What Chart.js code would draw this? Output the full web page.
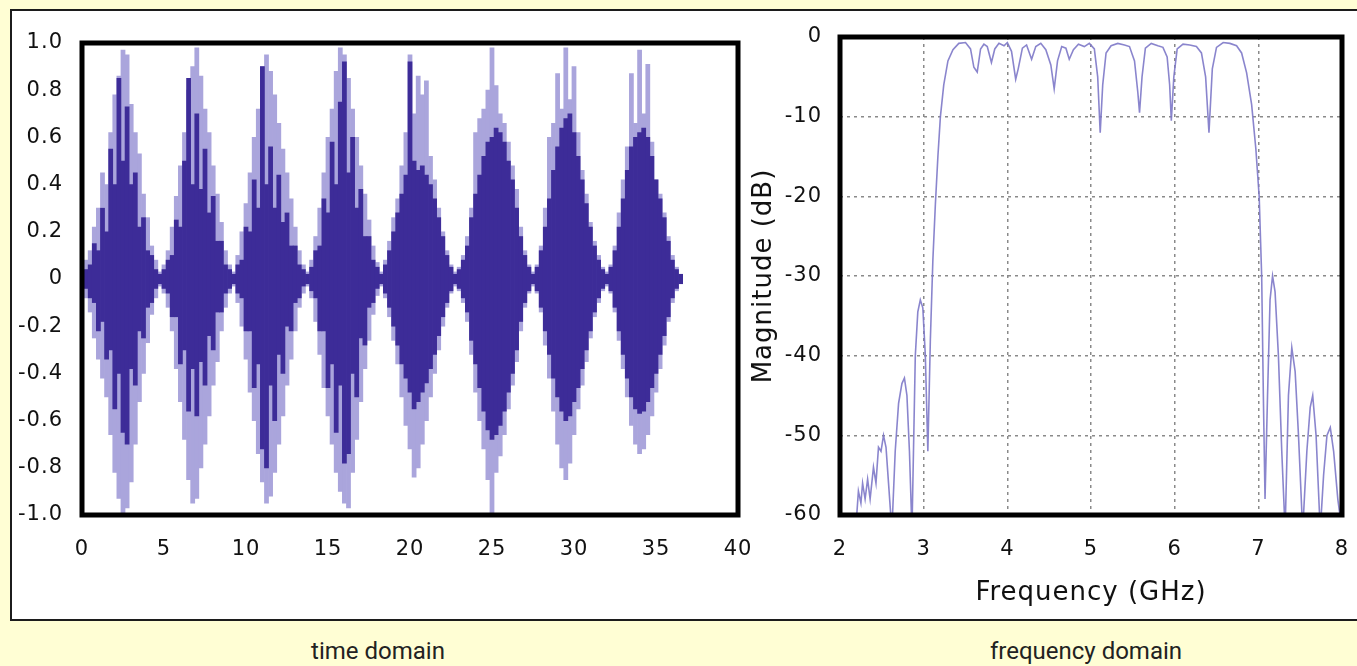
<!DOCTYPE html>
<html lang="en">
<head>
  <meta charset="UTF-8">
  <title>UWB signal - time domain / frequency domain</title>
  <script src="https://cdn.jsdelivr.net/npm/chart.js"></script>
  <style>
    body { margin: 0; width: 1357px; height: 666px; overflow: hidden; position: relative; background: #fffed4; }
    .panel { position: absolute; left: 10px; top: 9px; width: 1370px; height: 612px; box-sizing: border-box; border: 2px solid #1c1c1c; background: #fff; }
    canvas { position: absolute; }
    #timeChart { left: 12px; top: 12px; }
    #freqChart { left: 745px; top: 12px; }
    .caption { position: absolute; top: 636px; width: 400px; text-align: center; font: 24px Roboto, sans-serif; line-height: 30px; color: #222; }
  </style>
</head>
<body>
  <div class="panel"></div>
  <canvas id="timeChart" width="745" height="548"></canvas>
  <canvas id="freqChart" width="612" height="603"></canvas>
  <div class="caption" style="left:178px">time domain</div>
  <div class="caption" style="left:886px">frequency domain</div>

  <script>
    // ---- time domain: envelope of the pulse train, one bin every 0.25 ns ----
    const timeStep = 0.25;
    const timeTicks = [0, 5, 10, 15, 20, 25, 30, 35, 40];

    // light trace (outer spikes)
    const lightTop = [
      .06, .08, .12, .22, .30, .45, .40, .62, .78, .86, .97, .95, .74, .62, .53, .36, .26, .14, .08, .03,
      .06, .12, .22, .35, .48, .62, .80, .90, .98, .86, .72, .62, .48, .36, .24, .12, .06, .03,
      .10, .20, .32, .45, .60, .72, .90, .95, .88, .78, .66, .55, .45, .34, .22, .12, .06, .03,
      .08, .18, .30, .45, .60, .72, .88, .98, .95, .85, .72, .60, .48, .36, .25, .14, .07, .03,
      .08, .16, .26, .34, .48, .62, .95, .70, .86, .78, .84, .52, .42, .30, .20, .12, .06, .03,
      .05, .10, .18, .30, .62, .68, .72, .80, .98, .82, .70, .66, .58, .48, .38, .22, .12, .06, .03,
      .06, .14, .30, .60, .66, .87, .72, .98, .76, .90, .62, .46, .36, .24, .16, .10, .05, .03,
      .06, .14, .28, .42, .56, .87, .66, .97, .70, .91, .58, .42, .36, .28, .18, .10, .05, .02
    ];
    const lightBottom = [
      -.06, -.08, -.14, -.25, -.34, -.42, -.50, -.66, -.82, -.93, -1.0, -.97, -.86, -.70, -.52, -.40, -.27, -.15, -.08, -.03,
      -.06, -.12, -.22, -.38, -.52, -.68, -.85, -.95, -.93, -.80, -.70, -.58, -.45, -.35, -.22, -.12, -.06, -.03,
      -.10, -.20, -.34, -.48, -.60, -.74, -.86, -.95, -.92, -.82, -.70, -.58, -.45, -.34, -.22, -.12, -.06, -.03,
      -.08, -.18, -.32, -.46, -.58, -.70, -.82, -.90, -.95, -.97, -.82, -.68, -.52, -.38, -.26, -.15, -.07, -.03,
      -.08, -.16, -.26, -.36, -.50, -.62, -.72, -.84, -.80, -.70, -.60, -.50, -.40, -.30, -.20, -.12, -.06, -.03,
      -.05, -.10, -.18, -.32, -.48, -.60, -.72, -.85, -.99, -.82, -.75, -.66, -.55, -.45, -.35, -.22, -.12, -.06, -.03,
      -.06, -.14, -.28, -.42, -.56, -.70, -.80, -.85, -.78, -.66, -.55, -.45, -.35, -.25, -.16, -.10, -.05, -.03,
      -.06, -.14, -.26, -.38, -.50, -.62, -.70, -.74, -.72, -.66, -.58, -.48, -.38, -.28, -.18, -.10, -.05, -.02
    ];
    // dark trace (inner core)
    const darkTop = [
      .03, .04, .06, .15, .12, .30, .20, .55, .40, .85, .50, .73, .40, .45, .22, .26, .12, .10, .04, .02,
      .04, .08, .10, .25, .22, .50, .85, .40, .70, .38, .55, .28, .35, .16, .16, .06, .04, .02,
      .06, .08, .22, .20, .42, .30, .90, .40, .56, .30, .44, .24, .28, .14, .14, .06, .04, .02,
      .05, .12, .14, .34, .28, .58, .40, .75, .92, .45, .60, .30, .38, .18, .18, .08, .05, .02,
      .06, .12, .20, .28, .36, .44, .92, .50, .46, .48, .44, .40, .34, .26, .18, .10, .05, .02,
      .04, .08, .14, .26, .36, .44, .52, .58, .60, .64, .62, .58, .50, .42, .30, .18, .10, .05, .02,
      .05, .12, .22, .34, .46, .56, .64, .68, .70, .62, .52, .42, .32, .22, .14, .08, .04, .02,
      .05, .12, .22, .34, .46, .56, .60, .62, .64, .60, .52, .42, .34, .26, .16, .08, .04, .02
    ];
    const darkBottom = [
      -.03, -.04, -.08, -.10, -.22, -.18, -.34, -.30, -.55, -.40, -.65, -.70, -.38, -.45, -.22, -.25, -.12, -.10, -.04, -.02,
      -.04, -.06, -.16, -.16, -.36, -.30, -.56, -.38, -.58, -.35, -.45, -.24, -.30, -.14, -.14, -.06, -.04, -.02,
      -.06, -.08, -.22, -.22, -.46, -.36, -.72, -.80, -.45, -.60, -.32, -.40, -.20, -.22, -.10, -.08, -.03, -.02,
      -.05, -.08, -.22, -.22, -.46, -.36, -.65, -.45, -.78, -.74, -.40, -.50, -.25, -.28, -.12, -.10, -.04, -.02,
      -.06, -.12, -.20, -.28, -.36, -.42, -.48, -.55, -.52, -.48, -.44, -.38, -.32, -.24, -.16, -.10, -.05, -.02,
      -.04, -.08, -.14, -.26, -.36, -.46, -.56, -.64, -.68, -.66, -.62, -.56, -.48, -.40, -.30, -.18, -.10, -.05, -.02,
      -.05, -.12, -.22, -.32, -.42, -.50, -.56, -.60, -.58, -.52, -.46, -.38, -.30, -.22, -.14, -.08, -.04, -.02,
      -.05, -.12, -.22, -.32, -.42, -.50, -.55, -.57, -.56, -.52, -.46, -.40, -.32, -.24, -.16, -.08, -.04, -.02
    ];

    // ---- frequency domain: magnitude response ----
    const freqGHz = [
      2.20, 2.22, 2.25, 2.27, 2.30, 2.33, 2.36, 2.40, 2.43, 2.46,
      2.49, 2.52, 2.55, 2.58, 2.62, 2.66, 2.70, 2.74, 2.77, 2.80,
      2.83, 2.86, 2.90, 2.93, 2.96, 2.99, 3.02, 3.05, 3.08, 3.11,
      3.14, 3.17, 3.20, 3.24, 3.29, 3.35, 3.42, 3.50, 3.56, 3.60,
      3.64, 3.68, 3.72, 3.76, 3.81, 3.85, 3.90, 3.96, 4.00, 4.05,
      4.10, 4.13, 4.18, 4.23, 4.29, 4.34, 4.40, 4.46, 4.52, 4.56,
      4.60, 4.65, 4.70, 4.74, 4.79, 4.85, 4.92, 4.98, 5.04, 5.08,
      5.11, 5.14, 5.18, 5.24, 5.32, 5.40, 5.46, 5.52, 5.56, 5.58,
      5.61, 5.65, 5.72, 5.80, 5.86, 5.91, 5.94, 5.96, 5.99, 6.03,
      6.10, 6.18, 6.26, 6.32, 6.37, 6.41, 6.45, 6.50, 6.58, 6.66,
      6.74, 6.80, 6.86, 6.92, 6.97, 7.01, 7.04, 7.06, 7.08, 7.11,
      7.14, 7.17, 7.20, 7.24, 7.28, 7.32, 7.36, 7.40, 7.44, 7.48,
      7.53, 7.58, 7.62, 7.65, 7.69, 7.74, 7.78, 7.82, 7.86, 7.90,
      7.95, 8.00
    ];
    const magnitudeDb = [
      -60, -57, -58.5, -56, -58, -55.5, -58, -54, -56, -51.5,
      -52, -50, -51.5, -56, -62, -52, -46, -43.5, -42.8, -45,
      -52, -62, -40, -34.5, -33, -34, -40, -52, -38, -28,
      -21, -15, -10, -6, -3, -1.6, -0.8, -0.7, -1.5, -3.8,
      -4.4, -1.5, -0.9, -1.2, -3.2, -1.5, -0.8, -1.1, -0.7, -1.8,
      -5.3, -4.0, -1.4, -1.0, -2.8, -1.2, -0.8, -1.6, -3.5, -6.5,
      -3.0, -1.2, -1.4, -2.8, -1.6, -0.9, -1.2, -0.8, -1.5, -5,
      -12, -6, -2, -1.1, -0.8, -1.0, -1.2, -3, -7, -9.5,
      -5, -1.4, -0.8, -1.1, -1.3, -2.5, -6, -10.5, -5, -1.5,
      -0.9, -1.0, -1.2, -2, -5, -12, -4, -1.3, -0.7, -0.8,
      -1.1, -2, -4.5, -8.5, -14, -20, -30, -45, -58, -45,
      -33, -30, -32, -40, -52, -62, -45, -39, -42, -50,
      -62, -52, -46.5, -45, -50, -62, -55, -50, -49, -52,
      -58, -62
    ];

    Chart.defaults.font.family = "'DejaVu Sans', sans-serif";
    Chart.defaults.font.size = 21;
    Chart.defaults.color = '#111';

    // thick black box round the plot area, and the slightly wide lettering of the original
    const plotFrame = {
      id: 'plotFrame',
      beforeDraw(chart) {
        chart.ctx.letterSpacing = '1px';
      },
      afterDatasetsDraw(chart) {
        const { ctx, chartArea: a } = chart;
        ctx.save();
        ctx.lineWidth = 5;
        ctx.strokeStyle = '#000';
        ctx.strokeRect(a.left, a.top, a.right - a.left, a.bottom - a.top);
        ctx.restore();
      }
    };

    // tick gap is made with an invisible tick mark, so it does not widen the layout padding
    const gap = (len, extra) => Object.assign({ drawTicks: true, tickLength: len, tickColor: 'rgba(0,0,0,0)' }, extra);

    const bars = (top, bottom) => top.map((hi, i) => ({ x: i * timeStep, y: [bottom[i], hi] }));

    new Chart(document.getElementById('timeChart'), {
      type: 'bar',
      data: {
        datasets: [
          { data: bars(darkTop, darkBottom), backgroundColor: '#3d2c98', order: 0 },
          { data: bars(lightTop, lightBottom), backgroundColor: '#aaa5dc', order: 1 }
        ]
      },
      options: {
        responsive: false,
        animation: false,
        events: [],
        grouped: false,
        barPercentage: 1,
        categoryPercentage: 1,
        layout: { padding: { top: 31, right: 19, left: 0, bottom: 0 } },
        plugins: { legend: { display: false }, tooltip: { enabled: false } },
        scales: {
          x: {
            type: 'linear', min: 0, max: 40, offset: false,
            afterBuildTicks: s => { s.ticks = timeTicks.map(v => ({ value: v })); },
            ticks: { padding: 0 },
            grid: gap(22, { drawOnChartArea: false, offset: false }),
            border: { display: false },
            afterFit: s => { s.height = 45; }
          },
          y: {
            min: -1, max: 1,
            ticks: {
              stepSize: 0.2, padding: 0,
              callback: v => Math.abs(v) < 1e-9 ? '0' : v.toFixed(1)
            },
            grid: gap(19, { drawOnChartArea: false }),
            border: { display: false },
            afterFit: s => { s.width = 70; }
          }
        }
      },
      plugins: [plotFrame]
    });

    new Chart(document.getElementById('freqChart'), {
      type: 'line',
      data: {
        datasets: [{
          data: freqGHz.map((f, i) => ({ x: f, y: magnitudeDb[i] })),
          borderColor: 'rgba(125, 120, 200, 0.9)',
          borderWidth: 1.6,
          pointRadius: 0,
          tension: 0
        }]
      },
      options: {
        responsive: false,
        animation: false,
        events: [],
        layout: { padding: { top: 25, right: 15, left: 0, bottom: 0 } },
        plugins: { legend: { display: false }, tooltip: { enabled: false } },
        scales: {
          x: {
            type: 'linear', min: 2, max: 8,
            ticks: { stepSize: 1, padding: 0 },
            grid: gap(22, { color: '#8a8a8a', lineWidth: 1.5 }),
            border: { display: false, dash: [3, 4] },
            title: { display: true, text: 'Frequency (GHz)', font: { size: 26 }, padding: { top: 0, bottom: 6 } },
            afterFit: s => { s.height = 100; }
          },
          y: {
            min: -60, max: 0,
            ticks: { stepSize: 10, padding: 0 },
            grid: gap(18, { color: '#8a8a8a', lineWidth: 1.5 }),
            border: { display: false, dash: [3, 4] },
            title: { display: true, text: 'Magnitude (dB)', font: { size: 26 }, padding: { top: 4, bottom: 0 } },
            afterFit: s => { s.width = 95; }
          }
        }
      },
      plugins: [plotFrame]
    });
  </script>
</body>
</html>
